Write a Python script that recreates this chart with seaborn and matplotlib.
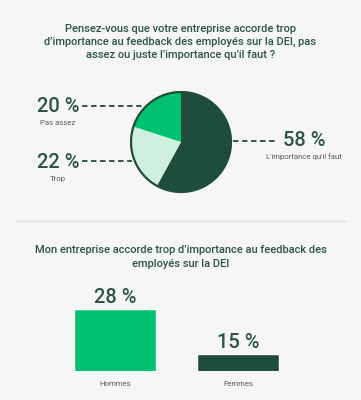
import numpy as np
import pandas as pd
import seaborn as sns
import matplotlib.pyplot as plt
from matplotlib.lines import Line2D

# data
pie_labels = ["L'importance qu'il faut", "Trop", "Pas assez"]
pie_values = [58, 22, 20]
bar_groups = ["Hommes", "Femmes"]
bar_values = [28, 15]

title1 = ("Pensez-vous que votre entreprise accorde trop\n"
          "d\u2019importance au feedback des employés sur la DEI, pas\n"
          "assez ou juste l\u2019importance qu\u2019il faut ?")
title2 = ("Mon entreprise accorde trop d\u2019importance au feedback des\n"
          "employés sur la DEI")

dark = "#1f4d3b"
green = "#00c170"
light = "#cfeedd"
txt = "#2c5643"
grey = "#5c5c5c"
bg = "#f6f6f6"

sns.set_theme(style="white")
plt.rcParams['font.family'] = ['Roboto', 'DejaVu Sans']

W, H = 361, 400
fig = plt.figure(figsize=(W / 100, H / 100), dpi=100, facecolor=bg)

# overlay in pixel coords
ov = fig.add_axes([0, 0, 1, 1])
ov.set_xlim(0, W)
ov.set_ylim(H, 0)
ov.axis("off")

ov.text(180.5, 42, title1, ha="center", va="center", fontsize=8.0,
        color=txt, fontweight="medium", linespacing=1.4)

# pie
cx, cy, r = 181, 142, 51.5
pax = fig.add_axes([(cx - r) / W, 1 - (cy + r) / H, 2 * r / W, 2 * r / H])
pax.pie(pie_values, colors=[dark, light, green], startangle=90,
        counterclock=False, radius=1,
        wedgeprops=dict(linewidth=0))
pax.add_patch(plt.Circle((0, 0), 1, fill=False, ec=dark, lw=1.6))
pax.set_xlim(-1.03, 1.03)
pax.set_ylim(-1.03, 1.03)
pax.set_aspect("equal")
pax.axis("off")

# pie annotations
big = dict(fontsize=14.5, color=txt, fontweight="medium", va="center")
small = dict(fontsize=5.6, color=grey, va="center", ha="center")
ov.text(58, 107, f"{pie_values[2]} %", ha="center", **big)
ov.text(58, 123, pie_labels[2], **small)
ov.add_line(Line2D([82, 143], [106, 106], color=dark, lw=1.3, ls=(0, (3, 2))))

ov.text(58, 163, f"{pie_values[1]} %", ha="center", **big)
ov.text(58, 179, pie_labels[1], **small)
ov.add_line(Line2D([82, 132], [161, 161], color=dark, lw=1.3, ls=(0, (3, 2))))

ov.text(304, 141, f"{pie_values[0]} %", ha="center", **big)
ov.text(304, 157, pie_labels[0], **small)
ov.add_line(Line2D([233, 276], [141, 141], color=dark, lw=1.3, ls=(0, (3, 2))))

# separator
ov.add_line(Line2D([15, 345], [221, 221], color="#dcdcdc", lw=1))

ov.text(180.5, 257, title2, ha="center", va="center", fontsize=8.0,
        color=txt, fontweight="medium", linespacing=1.4)

# bars
df = pd.DataFrame({"groupe": bar_groups, "valeur": bar_values})
left, right, bottom, top = 53.5, 299.5, 371, 300
bax = fig.add_axes([left / W, 1 - bottom / H, (right - left) / W, (bottom - top) / H])
sns.barplot(data=df, x="groupe", y="valeur", hue="groupe",
            palette=[green, dark], saturation=1, width=0.66, legend=False, ax=bax)
ymin = 10.1
ymax = ymin + (bottom - top) / 3.46
bax.set_ylim(ymin, ymax)
bax.set_xlim(-0.5, 1.5)
bax.axis("off")
for i, v in enumerate(bar_values):
    bax.text(i, v + 3.3, f"{v} %", ha="center", va="center", fontsize=14.5,
             color=txt, fontweight="medium", clip_on=False)
    bax.text(i, ymin - 3.7, bar_groups[i], ha="center", va="center",
             fontsize=5.6, color=grey, clip_on=False)

fig.savefig("out.png", dpi=100, facecolor=bg)
